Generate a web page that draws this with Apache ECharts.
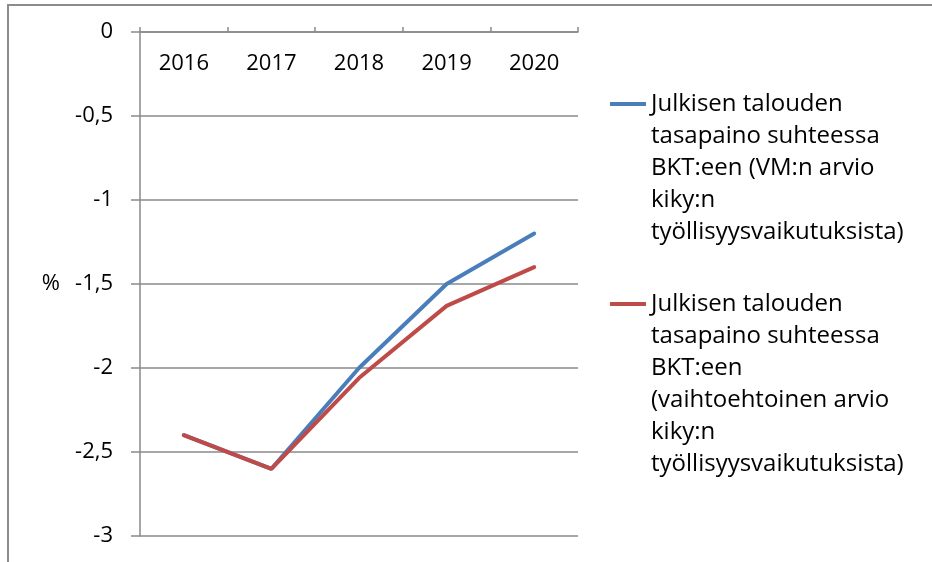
<!DOCTYPE html>
<html>
<head>
<meta charset="utf-8">
<script src="https://cdn.jsdelivr.net/npm/echarts@6/dist/echarts.min.js"></script>
<style>
	html, body { margin: 0; padding: 0; background: #fff; }
	#frame { position: absolute; left: 7px; top: 4px; right: 0; bottom: 0; border-left: 2px solid #8c8c8c; border-top: 2px solid #8c8c8c; }
	#chart { position: absolute; left: 0; top: 0; width: 932px; height: 562px; }
</style>
</head>
<body>
<div id="frame"></div>
<div id="chart"></div>
<script>
// vuodet
const years = ['2016', '2017', '2018', '2019', '2020']
// VM:n arvio
const vmArvio = [-2.4, -2.6, -2.0, -1.5, -1.2]
// vaihtoehtoinen arvio
const vaihtoehtoinen = [-2.4, -2.6, -2.06, -1.63, -1.4]
const seriesNames = [
	'Julkisen talouden\ntasapaino suhteessa\nBKT:een (VM:n arvio\nkiky:n\ntyöllisyysvaikutuksista)',
	'Julkisen talouden\ntasapaino suhteessa\nBKT:een\n(vaihtoehtoinen arvio\nkiky:n\ntyöllisyysvaikutuksista)',
]
const colors = ['#4a7ebb', '#be4b48']

const gridColor = '#8a8a8a'
const font = 'Open Sans'

// legend icon: short bar at the first text line, tiny dots stretch the box to itemHeight
function iconAt(y) {
	return 'path://M0,0h0.05v0.05h-0.05z M0,' + (y - 2) + 'h36v4h-36z M0,191.95h0.05v0.05h-0.05z'
}

const chartInstance = echarts.init(document.getElementById('chart'))
const option = {
	animation: false,
	grid: {
		left: 140,
		right: 354,
		top: 32,
		bottom: 26,
	},
	legend: {
		orient: 'vertical',
		left: 610,
		top: 72,
		padding: 0,
		itemWidth: 36,
		itemHeight: 192,
		itemGap: 24,
		itemStyle: { borderWidth: 0 },
		textStyle: {
			fontFamily: font,
			fontSize: 24,
			lineHeight: 32,
			color: '#000',
		},
		data: [
			{ name: seriesNames[0], icon: iconAt(32) },
			{ name: seriesNames[1], icon: iconAt(16) },
		],
	},
	xAxis: {
		type: 'category',
		position: 'top',
		data: years,
		boundaryGap: true,
		axisLine: {
			onZero: false,
			lineStyle: { color: gridColor, width: 1.5 },
		},
		axisTick: {
			show: true,
			length: 5,
			lineStyle: { color: gridColor, width: 1.5 },
		},
		axisLabel: {
			inside: true,
			margin: 21,
			color: '#000',
			fontFamily: font,
			fontSize: 22,
		},
		splitLine: { show: false },
	},
	yAxis: {
		type: 'value',
		min: -3,
		max: 0,
		interval: 0.5,
		name: '%',
		nameLocation: 'middle',
		nameRotate: 0,
		nameGap: 80,
		nameTextStyle: {
			color: '#000',
			fontFamily: font,
			fontSize: 22,
		},
		axisLine: {
			show: true,
			lineStyle: { color: gridColor, width: 1.5 },
		},
		axisTick: {
			show: true,
			length: 9,
			lineStyle: { color: gridColor, width: 1.5 },
		},
		splitLine: {
			show: true,
			lineStyle: { color: gridColor, width: 1.5 },
		},
		axisLabel: {
			margin: 27,
			color: '#000',
			fontFamily: font,
			fontSize: 22,
			formatter: (v) => String(v).replace('.', ','),
		},
	},
	series: [
		{
			type: 'line',
			name: seriesNames[0],
			data: vmArvio,
			symbol: 'none',
			color: colors[0],
			lineStyle: { color: colors[0], width: 4, cap: 'round' },
		},
		{
			type: 'line',
			name: seriesNames[1],
			data: vaihtoehtoinen,
			symbol: 'none',
			color: colors[1],
			lineStyle: { color: colors[1], width: 4, cap: 'round' },
		},
	],
}
chartInstance.setOption(option)
</script>
</body>
</html>
